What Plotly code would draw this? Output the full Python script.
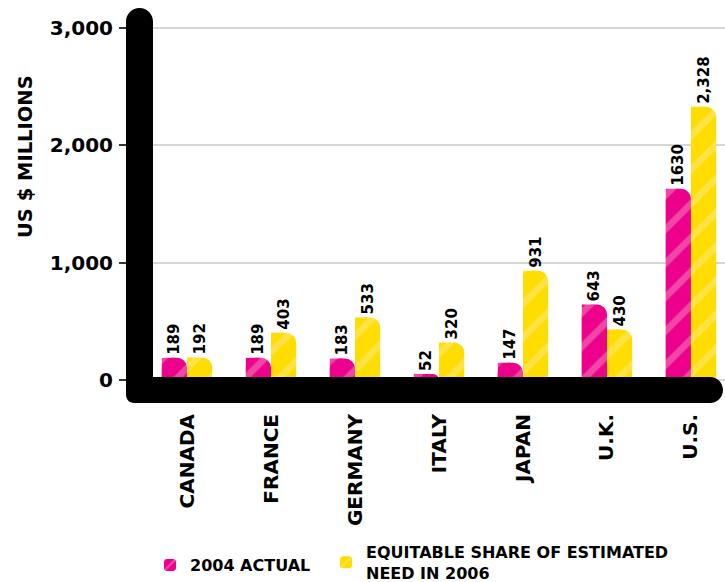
import plotly.graph_objects as go

# ---- data -------------------------------------------------------------
countries = ["CANADA", "FRANCE", "GERMANY", "ITALY", "JAPAN", "U.K.", "U.S."]
actual_2004_labels = ["189", "189", "183", "52", "147", "643", "1630"]
share_2006_labels = ["192", "403", "533", "320", "931", "430", "2,328"]
actual_2004 = [float(s.replace(",", "")) for s in actual_2004_labels]
share_2006 = [float(s.replace(",", "")) for s in share_2006_labels]
y_ticks = [0, 1000, 2000, 3000]
series_names = ["2004 ACTUAL", "EQUITABLE SHARE OF ESTIMATED<br>NEED IN 2006"]

PINK = "#ec008c"
PINK_STRIPE = "#f48cc0"
YELLOW = "#ffdd00"
YELLOW_STRIPE = "#ffe98a"
FONT = "DejaVu Sans, sans-serif"

# ---- page geometry (pixels) ------------------------------------------
W, H = 725, 582
L, R, T, B = 140, 0, 8, 179
PW, PH = W - L - R, H - T - B


def px(x):
    return (x - L) / PW


def py(y):
    return (H - B - y) / PH


BAR_W = 0.3
fig = go.Figure()


def add_series(values, labels, name, color, stripe, offset, legend):
    pattern = dict(shape="/", fgcolor=stripe, size=24, solidity=0.28, fillmode="overlay")
    # full bar with rounded top corners, carries the value label
    fig.add_trace(go.Bar(
        x=countries, y=values, text=labels, name=name, legend=legend,
        offset=offset, width=BAR_W,
        textposition="outside", textangle=-90, constraintext="none", cliponaxis=False,
        textfont=dict(family=FONT, size=15, color="black", weight="bold"),
        marker=dict(color=color, pattern=pattern, cornerradius=10, line_width=0),
        hoverinfo="skip",
    ))
    # left half without rounding, so only the top-right corner stays round
    fig.add_trace(go.Bar(
        x=countries, y=values, showlegend=False,
        offset=offset, width=BAR_W / 2,
        marker=dict(color=color, pattern=pattern, line_width=0),
        hoverinfo="skip",
    ))


add_series(actual_2004, actual_2004_labels, series_names[0], PINK, PINK_STRIPE, -BAR_W, "legend")
add_series(share_2006, share_2006_labels, series_names[1], YELLOW, YELLOW_STRIPE, 0, "legend2")

# ---- thick black L-shaped frame --------------------------------------
k = 0.5523


def P(x, y):
    return f"{px(x):.5f},{py(y):.5f}"


r_top = 13.5
r_end = 13
r_bl = 8
xl, xr = 126, 153
yt = 8
hb_top, hb_bot = 377, 403
x_end = 723
path = (
    f"M {P(xl, yt + r_top)} "
    f"C {P(xl, yt + r_top - k * r_top)} {P(xl + r_top - k * r_top, yt)} {P(xl + r_top, yt)} "
    f"C {P(xr - r_top + k * r_top, yt)} {P(xr, yt + r_top - k * r_top)} {P(xr, yt + r_top)} "
    f"L {P(xr, hb_top)} "
    f"L {P(x_end - r_end, hb_top)} "
    f"C {P(x_end - r_end + k * r_end, hb_top)} {P(x_end, hb_top + r_end - k * r_end)} {P(x_end, hb_top + r_end)} "
    f"C {P(x_end, hb_bot - r_end + k * r_end)} {P(x_end - r_end + k * r_end, hb_bot)} {P(x_end - r_end, hb_bot)} "
    f"L {P(xl + r_bl, hb_bot)} "
    f"C {P(xl + r_bl - k * r_bl, hb_bot)} {P(xl, hb_bot - r_bl + k * r_bl)} {P(xl, hb_bot - r_bl)} Z"
)
fig.add_shape(type="path", path=path, xref="paper", yref="paper",
              fillcolor="black", line=dict(width=0), layer="above")

# ---- axis title ------------------------------------------------------
fig.add_annotation(
    text="US $ MILLIONS", textangle=-90, showarrow=False,
    xref="paper", yref="paper", x=px(25), y=py(157),
    xanchor="center", yanchor="middle",
    font=dict(family=FONT, size=19.5, color="black", weight="bold"),
)

legend_font = dict(family=FONT, size=16, color="black", weight="bold")
fig.update_layout(
    width=W, height=H,
    margin=dict(l=L, r=R, t=T, b=B, pad=0, autoexpand=False),
    paper_bgcolor="white", plot_bgcolor="white",
    barmode="overlay",
    showlegend=True,
    legend=dict(
        orientation="h", x=px(150), xanchor="left", y=py(565), yanchor="middle",
        font=legend_font, bgcolor="rgba(0,0,0,0)",
    ),
    legend2=dict(
        orientation="h", x=px(326), xanchor="left", y=py(562.5), yanchor="middle",
        font=legend_font, bgcolor="rgba(0,0,0,0)",
    ),
    xaxis=dict(
        range=[-0.56, 6.405], showgrid=False, zeroline=False, showline=False,
        ticks="", tickangle=-90, ticklabelstandoff=6, automargin=False,
        tickfont=dict(family=FONT, size=20, color="black", weight="bold"),
    ),
    yaxis=dict(
        range=[-196.0, 3170.45], tickvals=y_ticks, tickformat=",d",
        showgrid=True, gridcolor="#d6d6d6", gridwidth=2,
        zeroline=False, showline=False, automargin=False,
        ticks="outside", ticklen=20, tickwidth=2, tickcolor="#333333",
        ticklabelstandoff=2,
        tickfont=dict(family=FONT, size=20, color="black", weight="bold"),
    ),
)

fig.write_html("out.html")
